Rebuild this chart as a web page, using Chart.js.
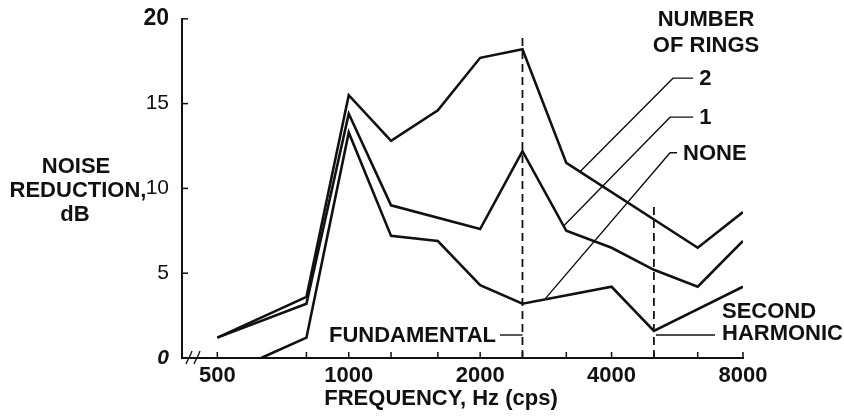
<!DOCTYPE html>
<html>
<head>
<meta charset="utf-8">
<script src="https://cdn.jsdelivr.net/npm/chart.js@4"></script>
<style>
  body { margin: 0; background: #fff; }
</style>
</head>
<body>
<canvas id="noiseChart" width="844" height="416"></canvas>
<script>
// Noise reduction vs frequency, by number of rings
const twoRingFreq = [500, 800, 1000, 1250, 1600, 2000, 2500, 3150, 6300, 8000];
const twoRingDb   = [1.2, 3.6, 15.5, 12.8, 14.6, 17.7, 18.2, 11.5, 6.5, 8.6];

const oneRingFreq = [500, 800, 1000, 1250, 2000, 2500, 3150, 4000, 5000, 6300, 8000];
const oneRingDb   = [1.2, 3.2, 14.4, 9.0, 7.6, 12.2, 7.5, 6.5, 5.2, 4.2, 6.9];

const noRingFreq = [630, 800, 1000, 1250, 1600, 2000, 2500, 4000, 5000, 8000];
const noRingDb   = [0, 1.2, 13.3, 7.2, 6.9, 4.3, 3.2, 4.2, 1.6, 4.2];

// fundamental and second harmonic markers
const markerFreqs = [2500, 5000];
const markerTops  = [19.0, 9.2];

const xTickFreqs = [500, 800, 1000, 1250, 1600, 2000, 2500, 3150, 4000, 5000, 6300, 8000];
const xTickLabels = [500, 1000, 2000, 4000, 8000];
const yTickValues = [0, 5, 10, 15, 20];

// leaders from the ring labels to their curves
const leaderNames   = ["2", "1", "NONE"];
const leaderEndFreq = [3390, 3110, 2820];
const leaderEndDb   = [11.0, 7.8, 3.5];
const leaderBendFreq = [5530, 5445, 5445];
const leaderBendDb   = [16.5, 14.2, 12.1];
const leaderTailFreq = [6150, 6150, 5650];

const FONT = "'Liberation Sans', Arial, sans-serif";
const INK = "#111";

function pts(xs, ys) {
  return xs.map((f, i) => ({ x: f, y: ys[i] }));
}

function seg(ctx, x1, y1, x2, y2) {
  ctx.beginPath();
  ctx.moveTo(x1, y1);
  ctx.lineTo(x2, y2);
  ctx.stroke();
}

const decorations = {
  id: "decorations",
  afterDatasetsDraw(chart) {
    const { ctx } = chart;
    const x = chart.scales.x, y = chart.scales.y;
    ctx.save();
    ctx.strokeStyle = INK;
    ctx.fillStyle = INK;

    // inward tick marks
    ctx.lineWidth = 1.5;
    xTickFreqs.forEach(f => {
      const px = x.getPixelForValue(f);
      seg(ctx, px, y.bottom, px, y.bottom - 6);
    });
    yTickValues.slice(1).forEach(v => {
      const py = y.getPixelForValue(v);
      seg(ctx, x.left, py, x.left + 6, py);
    });

    // axis break
    ctx.lineWidth = 1.3;
    [189, 197].forEach(bx => {
      ctx.beginPath();
      ctx.moveTo(bx - 3, y.bottom + 6);
      ctx.bezierCurveTo(bx - 1, y.bottom + 1, bx + 1, y.bottom - 1, bx + 3, y.bottom - 7);
      ctx.stroke();
    });

    // ring leaders
    ctx.lineWidth = 1.4;
    ctx.font = "bold 22px " + FONT;
    ctx.textBaseline = "middle";
    ctx.textAlign = "left";
    leaderNames.forEach((name, i) => {
      const ex = x.getPixelForValue(leaderEndFreq[i]), ey = y.getPixelForValue(leaderEndDb[i]);
      const bx = x.getPixelForValue(leaderBendFreq[i]), by = y.getPixelForValue(leaderBendDb[i]);
      const tx = x.getPixelForValue(leaderTailFreq[i]);
      ctx.beginPath();
      ctx.moveTo(ex, ey);
      ctx.lineTo(bx, by);
      ctx.lineTo(tx, by);
      ctx.stroke();
      ctx.fillText(name, tx + 6, by + 1);
    });

    ctx.textAlign = "center";
    ctx.fillText("NUMBER", 706, 20);
    ctx.fillText("OF RINGS", 706, 46);

    // y title
    ctx.fillText("NOISE", 76, 167);
    ctx.fillText("REDUCTION,", 78, 191);
    ctx.fillText("dB", 75, 215);

    // x title
    ctx.fillText("FREQUENCY, Hz (cps)", 441, 399);

    // marker labels
    const fx = x.getPixelForValue(markerFreqs[0]);
    const sx = x.getPixelForValue(markerFreqs[1]);
    ctx.textAlign = "right";
    ctx.fillText("FUNDAMENTAL", 496, 336);
    seg(ctx, 500, 335, fx, 335);
    ctx.textAlign = "left";
    ctx.fillText("SECOND", 722, 312);
    ctx.fillText("HARMONIC", 722, 334);
    seg(ctx, sx + 2, 335, 715, 335);

    ctx.restore();
  }
};

const solid = { borderColor: INK, borderWidth: 2.6, pointRadius: 0, tension: 0, fill: false };
const dashed = { borderColor: INK, borderWidth: 1.8, borderDash: [8, 5], pointRadius: 0, fill: false };

new Chart(document.getElementById("noiseChart"), {
  type: "line",
  data: {
    datasets: [
      Object.assign({ label: "2", data: pts(twoRingFreq, twoRingDb) }, solid),
      Object.assign({ label: "1", data: pts(oneRingFreq, oneRingDb) }, solid),
      Object.assign({ label: "NONE", data: pts(noRingFreq, noRingDb) }, solid),
      Object.assign({ label: "FUNDAMENTAL", data: [{ x: markerFreqs[0], y: 0 }, { x: markerFreqs[0], y: markerTops[0] }] }, dashed),
      Object.assign({ label: "SECOND HARMONIC", data: [{ x: markerFreqs[1], y: 0 }, { x: markerFreqs[1], y: markerTops[1] }] }, dashed)
    ]
  },
  options: {
    responsive: false,
    animation: false,
    layout: { padding: { top: 18, right: 101, left: 0, bottom: 0 } },
    plugins: { legend: { display: false }, tooltip: { enabled: false } },
    scales: {
      x: {
        type: "logarithmic",
        min: 415,
        max: 8000,
        afterFit: s => { s.height = 58; },
        afterBuildTicks: s => { s.ticks = xTickFreqs.map(v => ({ value: v })); },
        ticks: {
          autoSkip: false,
          maxRotation: 0,
          padding: -3,
          color: INK,
          font: { family: FONT, size: 22, weight: "bold" },
          callback: v => xTickLabels.includes(v) ? String(v) : ""
        },
        grid: { display: false },
        border: { color: INK, width: 2 }
      },
      y: {
        min: 0,
        max: 20,
        afterFit: s => { s.width = 182; },
        afterBuildTicks: s => { s.ticks = yTickValues.map(v => ({ value: v })); },
        ticks: {
          padding: 5,
          color: INK,
          font: ctx => {
            const v = ctx.tick ? ctx.tick.value : null;
            if (v === 20) return { family: FONT, size: 23, weight: "bold" };
            if (v === 0) return { family: FONT, size: 21, weight: "bold", style: "italic" };
            return { family: FONT, size: 21 };
          }
        },
        grid: { display: false },
        border: { color: INK, width: 2 }
      }
    }
  },
  plugins: [decorations]
});
</script>
</body>
</html>
